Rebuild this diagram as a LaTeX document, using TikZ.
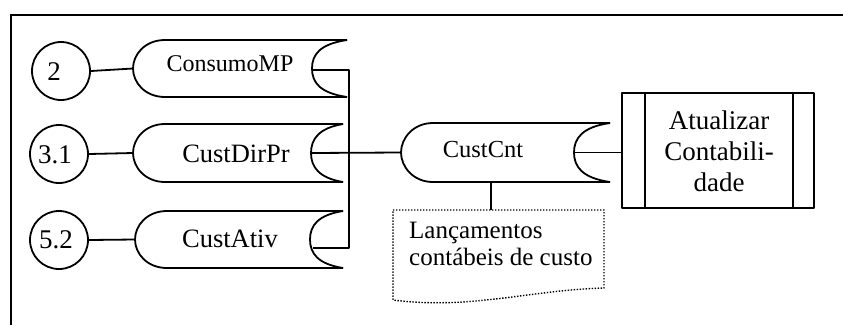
\documentclass[tikz,border=0pt]{standalone}
\usepackage{fontspec}
\setmainfont{Liberation Serif}
\usetikzlibrary{calc}

\tikzset{
  every picture/.style={x=1pt,y=-1pt},
  thin line/.style={line width=1.8pt,line join=round},
  storeline/.style={thin line},
  doc line/.style={line width=1.4pt,dash pattern=on 1.4pt off 1.6pt},
  numcircle/.style={circle,draw,line width=1.8pt,minimum size=58pt,inner sep=0pt},
  lbl/.style={inner sep=0pt,anchor=center},
}

% data store: #1 name, #2 left x, #3 inner x of the open end, #4 right x,
% #5 top y, #6 bottom y
\newcommand{\datastore}[6]{%
  \draw[storeline] (#4,#5) -- ({#2+32},#5)
    .. controls ({#2+12},#5) and (#2,{(#5+#6)/2-14}) .. (#2,{(#5+#6)/2})
    .. controls (#2,{(#5+#6)/2+14}) and ({#2+12},#6) .. ({#2+32},#6)
    -- (#4,#6);
  \draw[storeline] (#4,#5)
    .. controls ({#3+8},{#5+4}) and (#3,{(#5+#6)/2-14}) .. (#3,{(#5+#6)/2})
    .. controls (#3,{(#5+#6)/2+14}) and ({#3+8},{#6-4}) .. (#4,#6);
  \coordinate (#1-w) at (#2,{(#5+#6)/2});
  \coordinate (#1-e) at (#3,{(#5+#6)/2});
  \coordinate (#1-s) at ({(#2+#4)/2},#6);
}

\begin{document}
\begin{tikzpicture}
\useasboundingbox (0,0) rectangle (843,325);

% outer frame (top and left edges)
\draw[line width=1.8pt] (843,15) -- (11,15) -- (11,325);

% numbered circles
\node[numcircle] (c2)  at (61,71)  {};
\node[numcircle] (c31) at (59,154) {};
\node[numcircle] (c52) at (59,240) {};
\node[lbl,font=\fontsize{27}{30}\selectfont] (t2)  at (54,72)  {2};
\node[lbl,font=\fontsize{27}{30}\selectfont] (t31) at (55,155) {3.1};
\node[lbl,font=\fontsize{27}{30}\selectfont] (t52) at (56,240) {5.2};

% data stores
\datastore{cmp}{133}{312}{347}{40}{97}
\datastore{cdp}{133}{311}{343}{124}{182}
\datastore{cat}{135}{310}{343}{211}{268}
\datastore{ccn}{401}{574}{610}{123}{182}
\node[lbl,font=\fontsize{24}{28}\selectfont] (cmpt) at (230,64) {ConsumoMP};
\node[lbl,font=\fontsize{26.5}{30}\selectfont] (cdpt) at (236,154) {CustDirPr};
\node[lbl,font=\fontsize{26.5}{30}\selectfont] (catt) at (230,239) {CustAtiv};
\node[lbl,font=\fontsize{24.5}{28}\selectfont] (ccnt) at (483,150) {CustCnt};

% process box
\node[draw,thin line,minimum width=192pt,minimum height=115pt,inner sep=0pt]
  (proc) at (718,150.5) {};
\draw[thin line] ($(proc.north west)+(24,0)$) -- ($(proc.south west)+(24,0)$);
\draw[thin line] ($(proc.north east)+(-22,0)$) -- ($(proc.south east)+(-22,0)$);
\node[lbl,align=center,font=\fontsize{27}{31}\selectfont] (proct) at (719,151)
  {Atualizar\\Contabili-\\dade};

% document
\coordinate (doctop) at (491,210);
\draw[doc line] (393,210) -- (604,210) -- (604,288)
  .. controls (530,290) and (470,310) .. (393,300) -- cycle;
\node[inner sep=0pt,anchor=north west,align=left,
      font=\fontsize{25}{27}\selectfont] (doct) at (409,222)
  {Lançamentos\\contábeis de custo};

% connectors
\coordinate (bus top) at (349,70);
\coordinate (bus bot) at (349,248);
\draw[thin line] (c2.east) -- (cmp-w);
\draw[thin line] (c31.east) -- (cdp-w);
\draw[thin line] (c52.east) -- (cat-w);
\draw[thin line] (cmp-e |- bus top) -- (bus top) -- (bus bot) -- ($(cat-e |- bus bot)+(3,0)$);
\draw[thin line] (cdp-e) -- (ccn-w);
\draw[thin line] (ccn-e) -- (proc.west |- ccn-e);
\draw[thin line] (doctop |- ccn-s) -- (doctop);
\end{tikzpicture}
\end{document}
